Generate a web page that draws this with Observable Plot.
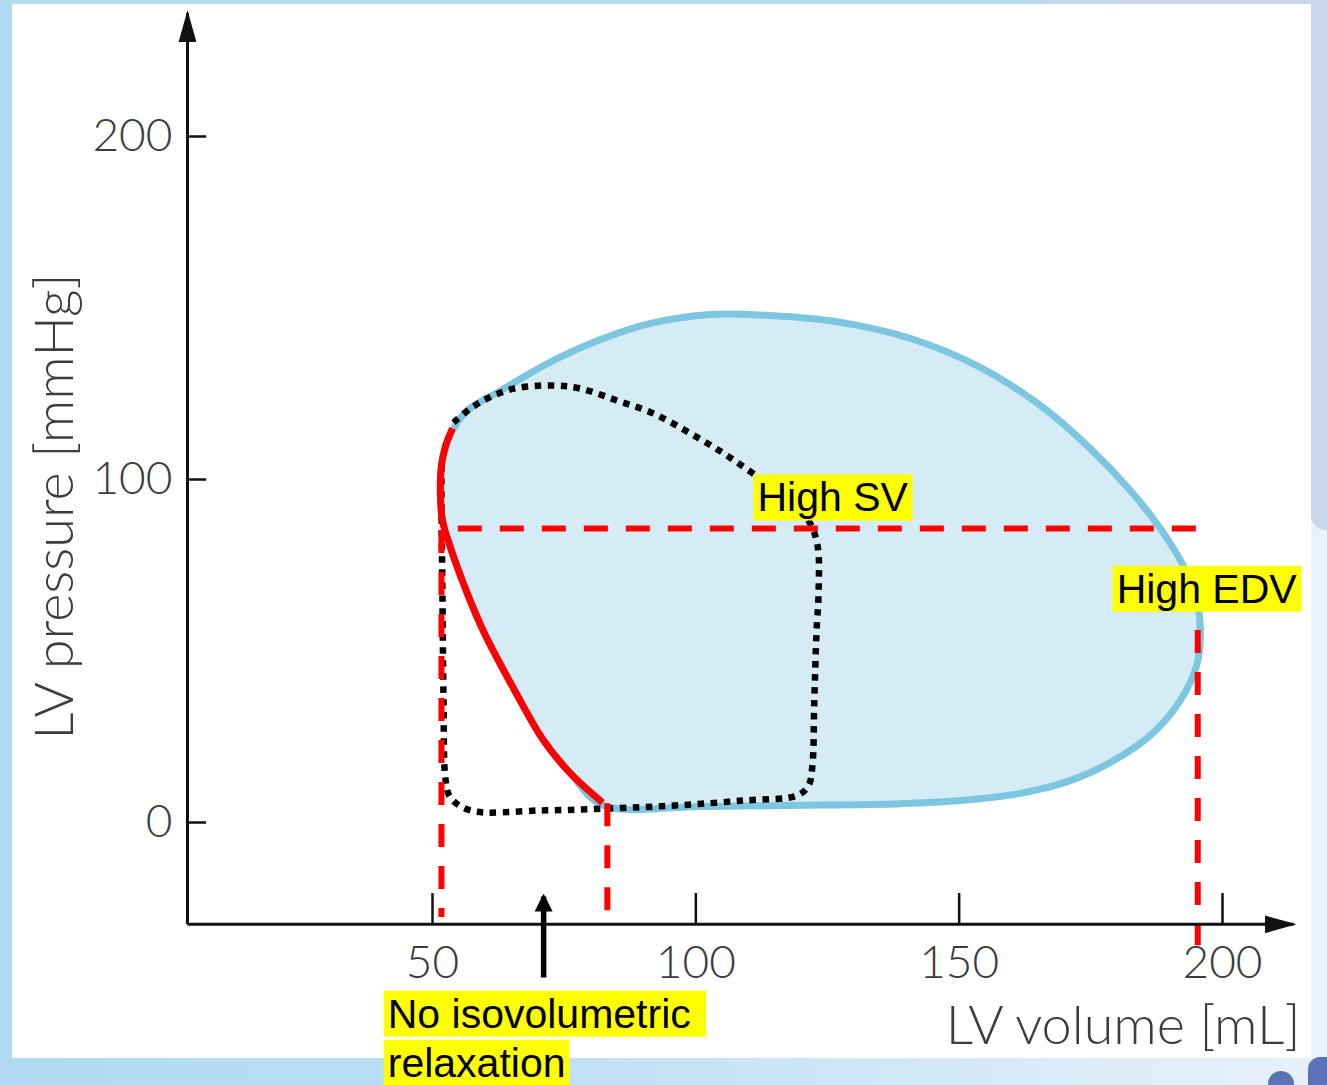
<!DOCTYPE html>
<html>
<head>
<meta charset="utf-8">
<script src="https://cdn.jsdelivr.net/npm/d3@7"></script>
<script src="https://cdn.jsdelivr.net/npm/@observablehq/plot@0.6"></script>
<style>
html, body { margin: 0; padding: 0; }
body { width: 1327px; height: 1085px; position: relative; overflow: hidden;
  background: linear-gradient(to right, #b0daf3 0%, #bde0f4 40%, #d6eaf8 75%, #e8f1fa 100%); }
#topband { position: absolute; left: 0; top: 0; width: 1327px; height: 4px;
  background: linear-gradient(to right, #b3dcf3 0%, #b3dcf3 76%, #c6d6eb 80%, #c8d6ea 100%); }
#rightlow { position: absolute; left: 1310px; top: 0; width: 17px; height: 1085px; background: #e9f2fb; }
#righttop { position: absolute; left: 1310px; top: 0; width: 17px; height: 530px; background: #c8d6ea; border-bottom-left-radius: 18px; }
#panel { position: absolute; left: 12px; top: 4px; width: 1299px; height: 1054px; background: #ffffff; }
#blob { position: absolute; left: 1308px; top: 1057px; width: 40px; height: 60px; background: #5b72b6; border-top-left-radius: 12px; }
#dot { position: absolute; left: 1268px; top: 1071px; width: 26px; height: 26px; border-radius: 50%; background: #5b72b6; }
#chart { position: absolute; left: 0; top: 0; }
</style>
</head>
<body>
<div id="topband"></div>
<div id="rightlow"></div>
<div id="righttop"></div>
<div id="panel"></div>
<div id="blob"></div>
<div id="dot"></div>
<div id="chart"></div>
<script>
// ---------- data ----------
const xTicks = [50, 100, 150, 200];
const yTicks = [0, 100, 200];
const xTickLabels = ["50", "100", "150", "200"];
const yTickLabels = ["0", "100", "200"];
const xTitle = "LV volume [mL]";
const yTitle = "LV pressure [mmHg]";

// pathological loop (blue), clockwise from end of filling
const blueVolume   = [82.3,100.9,119.9,138.9,150.3,161.6,171.1,178.7,186.3,192.0,195.1,195.8,195.3,193.0,188.2,182.5,174.9,165.4,154.0,140.8,127.5,114.2,102.8,91.4,81.9,73.0,62.9,56.6,53.8,52.1,51.5,51.9,53.4,56.6,59.7,65.6,71.1,76.2];
const bluePressure = [5.0,4.7,5.0,5.5,6.4,8.5,12.2,17.5,25.4,35.6,45.8,54.5,63.3,73.5,85.7,96.8,109.0,121.6,132.7,141.1,145.8,147.8,148.1,145.5,140.8,134.7,125.9,120.1,114.3,107.0,99.1,88.0,80.2,66.8,55.7,38.5,23.9,14.3];

// normal loop (black dotted)
const normalVolume   = [54.0,57.2,60.4,65.4,73.0,78.1,85.1,92.0,99.0,105.3,110.9,117.0,121.4,123.1,123.3,122.9,122.5,122.1,121.4,119.3,109.0,96.5,83.8,70.5,57.2,53.4,52.5,52.1,51.9,51.7,51.7];
const normalPressure = [116.6,120.7,123.6,126.5,127.4,126.5,123.0,119.2,113.4,107.6,101.7,94.8,88.0,80.8,66.8,55.1,35.6,16.0,10.8,7.9,6.4,5.0,4.1,3.5,3.5,7.3,12.2,35.6,64.7,93.9,104.0];

// no isovolumetric relaxation segment (red solid)
const relaxVolume   = [53.8,52.5,51.7,51.5,51.9,53.4,56.6,59.7,65.6,71.1,76.2,82.3];
const relaxPressure = [114.9,109.9,104.1,95.9,88.0,80.2,66.8,55.7,38.5,23.9,14.3,5.8];

// reference (red dashed) lines
const refHPressure = [85.7];
const refHFrom = [54.9];
const refHTo = [195.3];
const refVVolume = [51.7, 83.2, 195.3];
const refVTop = [85.1, 5.5, 56.0];
const refVBottom = [-27.7, -25.7, -35.9];

// highlighted annotations
const noteText = ["High SV", "High EDV", "No isovolumetric\u00a0", "relaxation"];
const noteVolume = [111.7, 179.9, 41.5, 41.5];
const notePressure = [94.5, 67.9, -56.0, -70.3];

// ---------- layout constants (axis geometry in data units) ----------
const axisOriginX = 3.48, axisOriginY = -29.7;
const axisEndX = 213.5, axisEndY = 235.9;
const xTickTop = -20.7, yTickRight = 7.1;
const xLabelY = -41.1, yLabelX = 0.63;
const xTitlePos = {x: 214.8, y: -59.4};
const yTitlePos = {x: -21.6, y: 92.1};
const pointer = {x: 71.1, y1: -45.2, y2: -21.6};

// ---------- tables ----------
const blueLoop = blueVolume.map((v, i) => ({v, p: bluePressure[i]}));
const normalLoop = normalVolume.map((v, i) => ({v, p: normalPressure[i]}));
const relaxCurve = relaxVolume.map((v, i) => ({v, p: relaxPressure[i]}));
const refH = refHPressure.map((p, i) => ({p, a: refHFrom[i], b: refHTo[i]}));
const refV = refVVolume.map((v, i) => ({v, a: refVTop[i], b: refVBottom[i]}));
const notes = noteText.map((t, i) => ({t, v: noteVolume[i], p: notePressure[i]}));
const xTickData = xTicks.map((v, i) => ({v, label: xTickLabels[i]}));
const yTickData = yTicks.map((p, i) => ({p, label: yTickLabels[i]}));
const axes = [
  {x1: axisOriginX, y1: axisOriginY, x2: axisEndX, y2: axisOriginY},
  {x1: axisOriginX, y1: axisOriginY, x2: axisOriginX, y2: axisEndY}
];
const pointers = [{x1: pointer.x, y1: pointer.y1, x2: pointer.x, y2: pointer.y2}];

const axisFont = "Lato, 'Open Sans', sans-serif";
const axisColor = "#3c3c3c";

const chart = Plot.plot({
  width: 1327,
  height: 1085,
  margin: 0,
  x: {domain: [50, 200], range: [432, 1222], axis: null},
  y: {domain: [0, 200], range: [822, 136], axis: null},
  style: {background: "transparent", overflow: "visible"},
  marks: [
    Plot.line(blueLoop, {x: "v", y: "p", curve: "catmull-rom-closed", fill: "#d5ecf6", stroke: "#7cc6df", strokeWidth: 7}),
    Plot.line(normalLoop, {x: "v", y: "p", curve: "catmull-rom", stroke: "#000", strokeWidth: 6.5, strokeDasharray: "6.5,6.5", strokeLinecap: "butt"}),
    Plot.line(relaxCurve, {x: "v", y: "p", curve: "catmull-rom", stroke: "#ff0000", strokeWidth: 7, strokeLinecap: "butt"}),
    Plot.ruleY(refH, {y: "p", x1: "a", x2: "b", stroke: "#ff0000", strokeWidth: 6, strokeDasharray: "24,18", strokeLinecap: "butt"}),
    Plot.ruleX(refV, {x: "v", y1: "a", y2: "b", stroke: "#ff0000", strokeWidth: 6, strokeDasharray: "23,19", strokeLinecap: "butt"}),
    Plot.link(axes, {x1: "x1", y1: "y1", x2: "x2", y2: "y2", stroke: "#111", strokeWidth: 3, ariaLabel: () => "axis-line"}),
    Plot.ruleX(xTickData, {x: "v", y1: axisOriginY, y2: xTickTop, stroke: "#111", strokeWidth: 2.5}),
    Plot.ruleY(yTickData, {y: "p", x1: axisOriginX, x2: yTickRight, stroke: "#111", strokeWidth: 2.5}),
    Plot.text(xTickData, {x: "v", y: xLabelY, text: "label", fontSize: 46, fontFamily: axisFont, fontWeight: 300, fill: axisColor}),
    Plot.text(yTickData, {x: yLabelX, y: "p", text: "label", textAnchor: "end", fontSize: 46, fontFamily: axisFont, fontWeight: 300, fill: axisColor}),
    Plot.text([xTitle], {x: xTitlePos.x, y: xTitlePos.y, text: d => d, textAnchor: "end", fontSize: 54, fontFamily: axisFont, fontWeight: 300, fill: axisColor}),
    Plot.text([yTitle], {x: yTitlePos.x, y: yTitlePos.y, text: d => d, rotate: -90, fontSize: 54, fontFamily: axisFont, fontWeight: 300, fill: axisColor}),
    Plot.link(pointers, {x1: "x1", y1: "y1", x2: "x2", y2: "y2", stroke: "#000", strokeWidth: 5.5, ariaLabel: () => "pointer"}),
    Plot.text(notes, {x: "v", y: "p", text: "t", textAnchor: "start", fontSize: 41, fontFamily: "Arial, 'Liberation Sans', sans-serif", fill: "#000", ariaLabel: () => "note"})
  ]
});

document.getElementById("chart").appendChild(chart);

// arrowheads
const svg = d3.select(chart);
const defs = svg.insert("defs", ":first-child");
defs.append("marker").attr("id", "axisHead").attr("markerUnits", "userSpaceOnUse")
  .attr("viewBox", "0 0 32 18").attr("markerWidth", 32).attr("markerHeight", 18)
  .attr("refX", 29).attr("refY", 9).attr("orient", "auto")
  .append("path").attr("d", "M0,0L32,9L0,18Z").attr("fill", "#111");
defs.append("marker").attr("id", "pointerHead").attr("markerUnits", "userSpaceOnUse")
  .attr("viewBox", "0 0 18 18").attr("markerWidth", 18).attr("markerHeight", 18)
  .attr("refX", 15).attr("refY", 9).attr("orient", "auto")
  .append("path").attr("d", "M0,0L18,9L0,18Z").attr("fill", "#000");
svg.selectAll('[aria-label="axis-line"]').attr("marker-end", "url(#axisHead)");
svg.selectAll('[aria-label="pointer"]').attr("marker-end", "url(#pointerHead)");

// yellow highlight behind annotation texts
svg.selectAll('text[aria-label="note"]').each(function () {
  const b = this.getBBox();
  const node = this;
  d3.select(this.parentNode).insert("rect", () => node)
    .attr("x", b.x - 4).attr("y", b.y).attr("width", b.width + 8).attr("height", b.height)
    .attr("transform", node.getAttribute("transform"))
    .attr("fill", "#ffff00");
});
</script>
</body>
</html>
